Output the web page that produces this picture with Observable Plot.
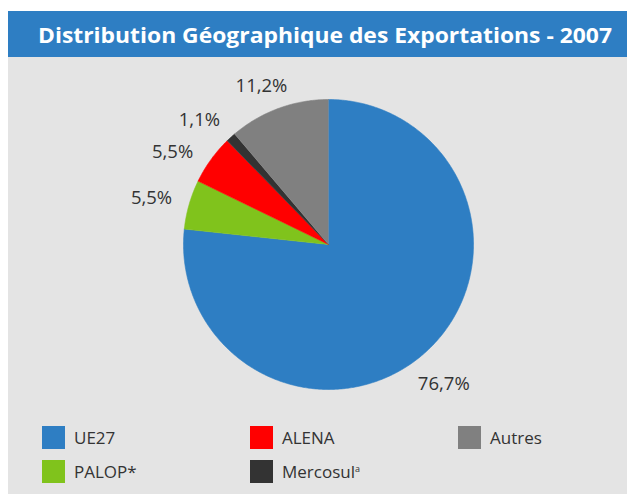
<!DOCTYPE html>
<html><head><meta charset="utf-8">
<script src="https://cdn.jsdelivr.net/npm/d3@7"></script>
<script src="https://cdn.jsdelivr.net/npm/@observablehq/plot@0.6"></script>
<style>
html,body{margin:0;padding:0;background:#fff;}
#wrap{position:relative;width:627px;height:494px;overflow:hidden;background:#fff;font-family:"Open Sans",sans-serif;}
#title{position:absolute;left:8px;top:11px;width:619px;height:46px;background:#2e7ec3;}
#title span{position:absolute;left:30px;top:8px;color:#fff;font-weight:bold;font-size:22px;white-space:nowrap;transform-origin:0 0;}
#panel{position:absolute;left:8px;top:57px;width:619px;height:437px;background:#e4e4e4;}
#chart{position:absolute;left:0;top:57px;}
.lg{position:absolute;display:flex;align-items:center;font-size:17px;color:#333;}
.lg i{display:inline-block;width:23px;height:23px;margin-right:9px;}
sup{font-size:9px;vertical-align:6px;}
</style></head>
<body><div id="wrap">
<div id="title"><span id="tt">Distribution Géographique des Exportations - 2007</span></div>
<div id="panel"></div>
<div id="chart"></div>
</div>
<script>
const categories = ["UE27", "PALOP*", "ALENA", "Mercosul", "Autres"];
const values = [76.7, 5.5, 5.5, 1.1, 11.2];
const labels = ["76,7%", "5,5%", "5,5%", "1,1%", "11,2%"];
const colors = ["#2e7ec3", "#80c31c", "#ff0000", "#333333", "#808080"];

// styling: label nudges (px)
const labelNudge = {"UE27":[-5,6],"PALOP*":[-4,3],"ALENA":[-10,13],"Mercosul":[-8,9],"Autres":[-5,10]};

const total = d3.sum(values);
const pts = [];
const lab = [];
let acc = 0;
categories.forEach((c, i) => {
  const a0 = acc / total * 2 * Math.PI;
  acc += values[i];
  const a1 = acc / total * 2 * Math.PI;
  pts.push({cat: c, x: 0, y: 0});
  const n = Math.max(2, Math.ceil((a1 - a0) / (Math.PI / 360)));
  for (let k = 0; k <= n; k++) {
    const a = a0 + (a1 - a0) * k / n;
    pts.push({cat: c, x: Math.sin(a), y: Math.cos(a)});
  }
  const am = (a0 + a1) / 2, R = 1.241;
  lab.push({cat: c, label: labels[i], x: R * Math.sin(am), y: R * Math.cos(am), dx: labelNudge[c][0], dy: labelNudge[c][1]});
});

const cx = 328, cy = 244 - 57, r = 145;
const plot = Plot.plot({
  width: 627, height: 360,
  margin: 0,
  style: {background: "transparent", overflow: "visible"},
  x: {domain: [-1, 1], range: [cx - r, cx + r], axis: null},
  y: {domain: [-1, 1], range: [cy + r, cy - r], axis: null},
  color: {domain: categories, range: colors},
  marks: [
    Plot.line(pts, {x: "x", y: "y", z: "cat", fill: "cat", stroke: "cat", strokeWidth: 0.6, curve: "linear"}),
    ...lab.map(d => Plot.text([d], {x: "x", y: "y", text: "label", dx: d.dx, dy: d.dy, fontSize: 18.5, fill: "#333", fontFamily: "Open Sans, sans-serif"}))
  ]
});
document.getElementById("chart").appendChild(plot);

// legend (column-major, 2 rows)
const wrap = document.getElementById("wrap");
const colX = [42, 250, 458], rowY = [426, 460];
categories.forEach((c, i) => {
  const el = document.createElement("div");
  el.className = "lg";
  el.style.left = colX[Math.floor(i / 2)] + "px";
  el.style.top = rowY[i % 2] + "px";
  el.style.height = "23px";
  const sw = document.createElement("i");
  sw.style.background = colors[i];
  el.appendChild(sw);
  const t = document.createElement("span");
  t.textContent = c;
  el.appendChild(t);
  if (c === "Mercosul") { const s = document.createElement("sup"); s.textContent = "a"; t.appendChild(s); }
  wrap.appendChild(el);
});

// fit title width
const tt = document.getElementById("tt");
const w = tt.getBoundingClientRect().width;
tt.style.transform = `scaleX(${574 / w})`;
</script>
</body></html>
